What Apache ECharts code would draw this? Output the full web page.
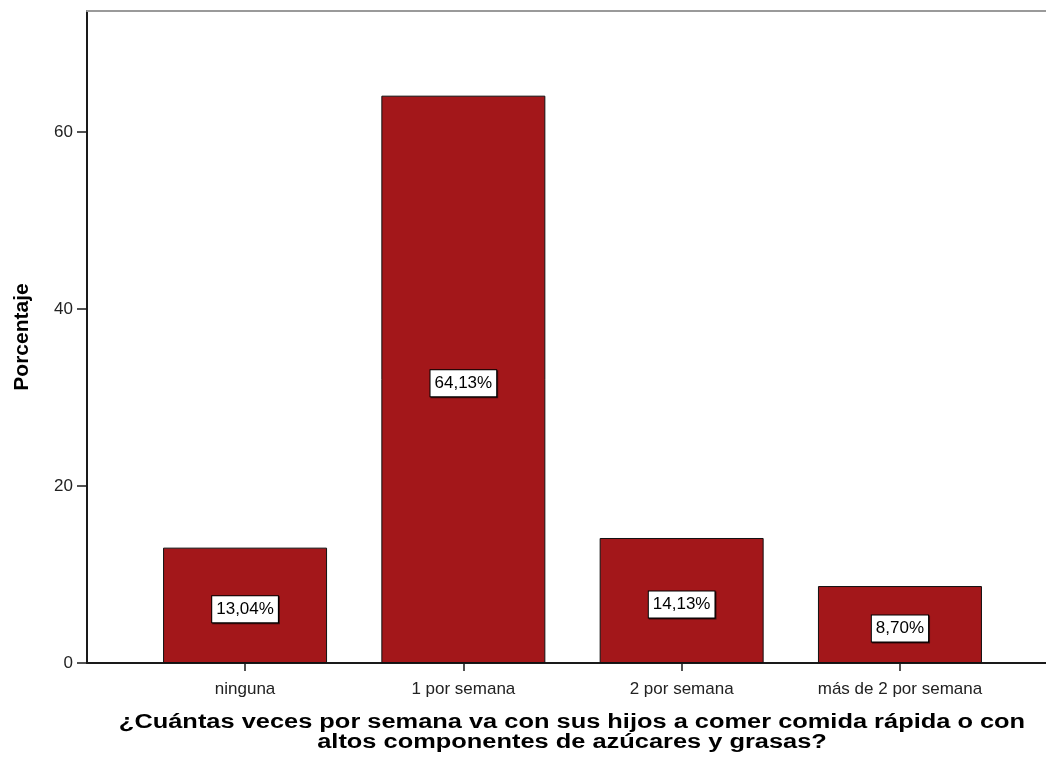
<!DOCTYPE html>
<html>
<head>
<meta charset="utf-8">
<script src="https://cdn.jsdelivr.net/npm/echarts@6/dist/echarts.min.js"></script>
<style>html,body{margin:0;padding:0;background:#fff;}#c{width:1046px;height:765px;}</style>
</head>
<body>
<div id="c"></div>
<script>
const categories = ['ninguna', '1 por semana', '2 por semana', 'más de 2 por semana'];
const percentages = [13.04, 64.13, 14.13, 8.70];
const yTicks = [0, 20, 40, 60];
const yTitle = 'Porcentaje';
const xTitle = '¿Cuántas veces por semana va con sus hijos a comer comida rápida o con\naltos componentes de azúcares y grasas?';

const FONT = "'Liberation Sans', Arial, sans-serif";
const catIdx = categories.map((c, i) => i);
const X_MIN = -0.724, X_MAX = 3.669;
const chart = echarts.init(document.getElementById('c'), null, {renderer: 'canvas'});
chart.setOption({
  animation: false,
  backgroundColor: '#fff',
  grid: {left: 87, right: 0, top: 11, bottom: 102},
  xAxis: [{
    type: 'value', min: X_MIN, max: X_MAX,
    splitLine: {show: false},
    axisLine: {show: true, onZero: false, lineStyle: {color: '#1a1a1a', width: 2}},
    axisTick: {show: true, customValues: catIdx, length: 8, lineStyle: {color: '#1a1a1a', width: 1.5}},
    axisLabel: {customValues: catIdx, formatter: v => categories[Math.round(v)], color: '#222', fontFamily: FONT, fontSize: 17, margin: 18}
  }, {
    type: 'value', position: 'top', min: X_MIN, max: X_MAX,
    splitLine: {show: false},
    axisLine: {show: true, onZero: false, lineStyle: {color: '#9a9a9a', width: 2}},
    axisTick: {show: false}, axisLabel: {show: false}
  }],
  yAxis: {
    type: 'value', min: 0, max: 73.7,
    splitLine: {show: false},
    axisLine: {show: true, onZero: false, lineStyle: {color: '#1a1a1a', width: 2}},
    axisTick: {show: true, customValues: yTicks, length: 10, lineStyle: {color: '#1a1a1a', width: 1.5}},
    axisLabel: {customValues: yTicks, color: '#222', fontFamily: FONT, fontSize: 17, margin: 14},
    name: yTitle, nameLocation: 'middle', nameGap: 54,
    nameTextStyle: {color: '#000', fontFamily: FONT, fontWeight: 'bold', fontSize: 21}
  },
  graphic: [{
    type: 'text', x: 572, y: 712, scaleX: 1.27, scaleY: 1,
    style: {text: xTitle, font: "bold 20px 'Liberation Sans', Arial, sans-serif", fill: '#000', align: 'center', verticalAlign: 'top', lineHeight: 20}
  }],
  series: [{
    type: 'bar',
    xAxisIndex: 0,
    data: percentages.map((v, i) => [i, v]),
    barWidth: 164,
    itemStyle: {color: '#a3171a', borderColor: '#111', borderWidth: 1},
    label: {
      show: true, position: 'inside', offset: [0, 4],
      formatter: p => p.value[1].toFixed(2).replace('.', ',') + '%',
      color: '#000', fontFamily: FONT, fontSize: 17,
      backgroundColor: '#fff', borderColor: '#000', borderWidth: 1,
      padding: [5, 4, 4, 4],
      shadowColor: 'rgba(0,0,0,0.6)', shadowOffsetX: 1, shadowOffsetY: 1, shadowBlur: 0
    }
  }]
});
</script>
</body>
</html>
